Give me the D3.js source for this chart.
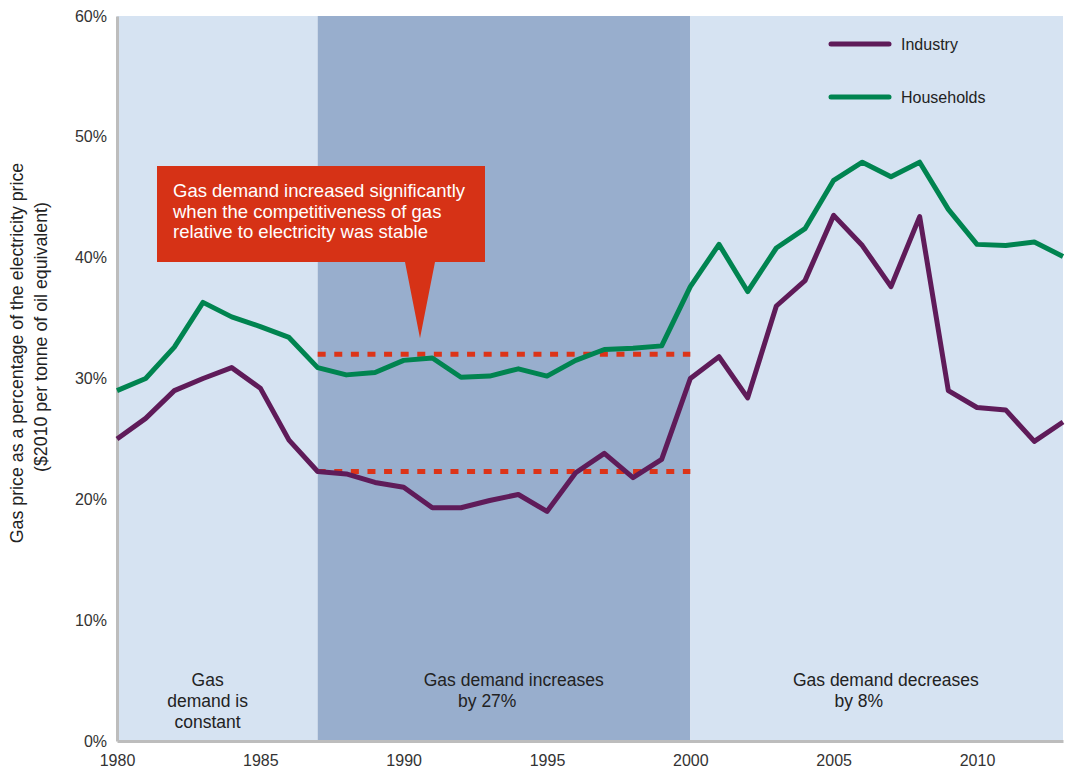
<!DOCTYPE html>
<html>
<head>
<meta charset="utf-8">
<script src="https://cdn.jsdelivr.net/npm/d3@7"></script>
<style>
  body { margin: 0; background: #fff; }
  svg { display: block; font-family: "Liberation Sans", Arial, sans-serif; }
</style>
</head>
<body>
<div id="chart"></div>
<script>
const years = d3.range(1980, 2014)
const industry = [25.0, 26.7, 29.0, 30.0, 30.9, 29.2, 24.9, 22.3, 22.1, 21.4,
  21.0, 19.3, 19.3, 19.9, 20.4, 19.0, 22.2, 23.8, 21.8, 23.3,
  30.0, 31.8, 28.4, 36.0, 38.1, 43.5, 41.0, 37.6, 43.4, 29.0,
  27.6, 27.4, 24.8, 26.4]
const households = [29.0, 30.0, 32.6, 36.3, 35.1, 34.3, 33.4, 30.9, 30.3, 30.5,
  31.5, 31.7, 30.1, 30.2, 30.8, 30.2, 31.5, 32.4, 32.5, 32.7,
  37.6, 41.1, 37.2, 40.8, 42.4, 46.4, 47.9, 46.7, 47.9, 44.0,
  41.1, 41.0, 41.3, 40.1]
const yTicks = [0, 10, 20, 30, 40, 50, 60]
const xTicks = [1980, 1985, 1990, 1995, 2000, 2005, 2010]
const periods = [
  { from: 1980, to: 1987, fill: '#d6e3f2', label: ['Gas', 'demand is', 'constant'], at: 1983.16, shift: 0 },
  { from: 1987, to: 2000, fill: '#98aecd', label: ['Gas demand increases', 'by 27%'], at: 1993.84, shift: -26.5 },
  { from: 2000, to: 2013, fill: '#d6e3f2', label: ['Gas demand decreases', 'by 8%'], at: 2006.82, shift: -27 }
]
const refLines = [
  { value: 32.0, from: 1987, to: 2000 },
  { value: 22.3, from: 1987, to: 2000 }
]
const callout = [
  'Gas demand increased significantly',
  'when the competitiveness of gas',
  'relative to electricity was stable'
]
const series = [
  { name: 'Industry', values: industry, color: '#5f1b59' },
  { name: 'Households', values: households, color: '#008450' }
]

const width = 1066, height = 777
const margin = { top: 16, right: 3, bottom: 36, left: 117 }
const innerW = width - margin.left - margin.right
const innerH = height - margin.top - margin.bottom

const svg = d3.select('#chart').append('svg')
  .attr('width', width).attr('height', height)

const x = d3.scaleLinear().domain([1980, 2013]).range([margin.left, margin.left + innerW])
const y = d3.scaleLinear().domain([0, 60]).range([margin.top + innerH, margin.top])

// shaded periods
svg.selectAll('rect.period')
  .data(periods)
  .join('rect')
  .attr('class', 'period')
  .attr('x', d => x(d.from))
  .attr('width', d => x(d.to) - x(d.from))
  .attr('y', y(60))
  .attr('height', y(0) - y(60))
  .attr('fill', d => d.fill)

// period labels
periods.forEach(p => {
  const t = svg.append('text')
    .attr('text-anchor', 'middle')
    .attr('font-size', 17.5)
    .attr('fill', '#222')
  p.label.forEach((line, i) => {
    t.append('tspan')
      .attr('x', x(p.at) + (i > 0 ? p.shift : 0))
      .attr('y', 686 + i * 21)
      .text(line)
  })
})

// axes
const yAxis = svg.append('g')
  .attr('transform', `translate(${margin.left},0)`)
  .call(d3.axisLeft(y).tickValues(yTicks).tickSize(0).tickPadding(10).tickFormat(d => d + '%'))
yAxis.select('.domain').attr('stroke', '#bdbdbd').attr('stroke-width', 3)
yAxis.selectAll('text').attr('font-size', 16).attr('fill', '#333')
  .attr('font-family', '"Liberation Sans", Arial, sans-serif')

const xAxis = svg.append('g')
  .attr('transform', `translate(0,${margin.top + innerH})`)
  .call(d3.axisBottom(x).tickValues(xTicks).tickSize(0).tickPadding(14).tickFormat(d3.format('d')))
xAxis.select('.domain').attr('stroke', '#bdbdbd').attr('stroke-width', 3)
xAxis.selectAll('text').attr('font-size', 16).attr('fill', '#333')
  .attr('font-family', '"Liberation Sans", Arial, sans-serif')

// y title
svg.append('text')
  .attr('transform', `translate(23,353) rotate(-90)`)
  .attr('text-anchor', 'middle')
  .attr('font-size', 17.8)
  .attr('fill', '#222')
  .selectAll('tspan')
  .data(['Gas price as a percentage of the electricity price', '($2010 per tonne of oil equivalent)'])
  .join('tspan')
  .attr('x', (d, i) => i === 0 ? 0 : 16)
  .attr('dy', (d, i) => i === 0 ? 0 : 24)
  .text(d => d)

// reference lines
svg.selectAll('line.ref')
  .data(refLines)
  .join('line')
  .attr('class', 'ref')
  .attr('x1', d => x(d.from))
  .attr('x2', d => x(d.to))
  .attr('y1', d => y(d.value))
  .attr('y2', d => y(d.value))
  .attr('stroke', '#dc3418')
  .attr('stroke-width', 5)
  .attr('stroke-dasharray', '8,8.6')

// series lines
const line = d3.line()
  .x((d, i) => x(years[i]))
  .y(d => y(d))

svg.selectAll('path.series')
  .data(series)
  .join('path')
  .attr('class', 'series')
  .attr('d', d => line(d.values))
  .attr('fill', 'none')
  .attr('stroke', d => d.color)
  .attr('stroke-width', 5)
  .attr('stroke-linejoin', 'round')

// callout
const cx0 = 157, cy0 = 166, cw = 328, ch = 96
svg.append('path')
  .attr('d', `M${cx0},${cy0}H${cx0 + cw}V${cy0 + ch}H435L420,${y(32.0) - 16}L405,${cy0 + ch}H${cx0}Z`)
  .attr('fill', '#d63216')
svg.append('text')
  .attr('fill', '#fff')
  .attr('font-size', 18.5)
  .selectAll('tspan')
  .data(callout)
  .join('tspan')
  .attr('x', cx0 + 16)
  .attr('y', (d, i) => 197 + i * 20.5)
  .text(d => d)

// legend
const legend = svg.append('g')
series.forEach((s, i) => {
  const ly = 44 + i * 53
  legend.append('line')
    .attr('x1', 831).attr('x2', 889)
    .attr('y1', ly).attr('y2', ly)
    .attr('stroke', s.color)
    .attr('stroke-width', 5)
    .attr('stroke-linecap', 'round')
  legend.append('text')
    .attr('x', 901).attr('y', ly + 6)
    .attr('font-size', 16)
    .attr('fill', '#222')
    .text(s.name)
})
</script>
</body>
</html>
